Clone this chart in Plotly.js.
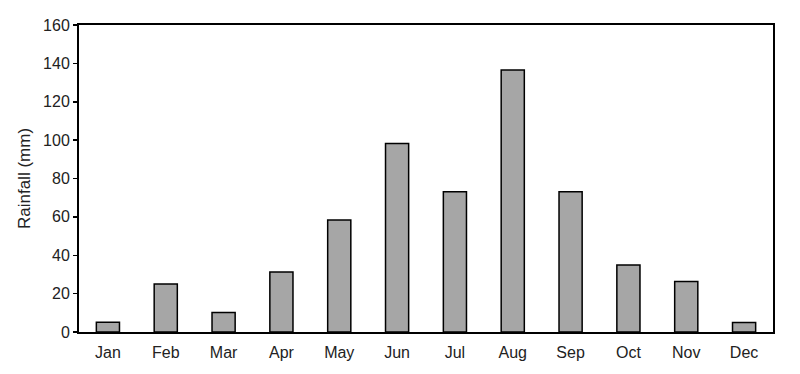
<!DOCTYPE html>
<html><head><meta charset="utf-8">
<script src="https://cdn.plot.ly/plotly-3.0.1.min.js"></script>
<style>html,body{margin:0;padding:0;background:#fff}</style>
</head><body><div id="chart" style="width:800px;height:374px"></div>
<script>
const months = ["Jan","Feb","Mar","Apr","May","Jun","Jul","Aug","Sep","Oct","Nov","Dec"];
const rainfall = [5.1, 25, 10.1, 31.3, 58.4, 98.2, 73.1, 136.5, 73.1, 34.9, 26.3, 5];
const yTicks = [0,20,40,60,80,100,120,140,160];

Plotly.newPlot("chart", [{
  type: "bar", x: months, y: rainfall,
  marker: {color: "#a6a6a6", line: {color: "#000", width: 1.5}},
  width: 0.4, hoverinfo: "skip"
}], {
  width: 800, height: 374,
  margin: {l: 79, r: 27, t: 25, b: 42},
  paper_bgcolor: "#fff", plot_bgcolor: "#fff",
  font: {family: "Liberation Sans, Arial, sans-serif", size: 16, color: "#222"},
  showlegend: false,
  xaxis: {showline: true, linecolor: "#000", linewidth: 2, mirror: true, ticks: "", showgrid: false, zeroline: false, ticklabelstandoff: 5},
  yaxis: {range: [0, 160], tickvals: yTicks, showline: true, linecolor: "#000", linewidth: 2, mirror: true,
    ticks: "outside", ticklen: 4, tickwidth: 1.5, tickcolor: "#000", showgrid: false, zeroline: false,
    title: {text: "Rainfall (mm)", standoff: 8, font: {size: 17}}}
}, {displayModeBar: false, staticPlot: true});
</script></body></html>
